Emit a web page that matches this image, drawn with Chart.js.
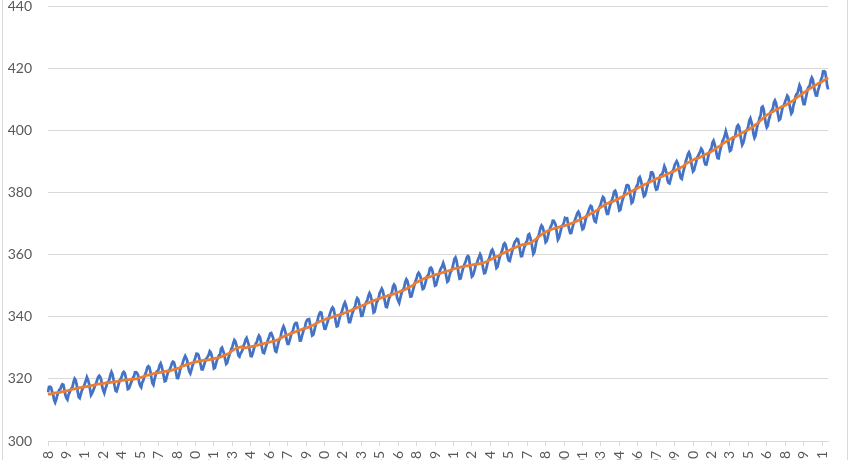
<!DOCTYPE html>
<html>
<head>
<meta charset="utf-8">
<script src="https://cdn.jsdelivr.net/npm/chart.js@4"></script>
<style>
  html, body { margin: 0; padding: 0; background: #fff; overflow: hidden; }
  #wrap { position: relative; width: 850px; height: 460px; overflow: hidden; }
  #c { position: absolute; left: 0; top: -18px; }
  .frame { position: absolute; top: 0; width: 1px; height: 460px; background: #d9d9d9; }
</style>
</head>
<body>
<div id="wrap">
  <canvas id="c" width="850" height="518"></canvas>
  <div class="frame" style="left:2px"></div>
  <div class="frame" style="left:847px"></div>
</div>
<script>
// Monthly CO2 (ppm), Mauna Loa, March 1958 – September 2021
const startYear = 1958;
const startMonth = 3;
const co2Measured = [
  315.70,317.45,317.51,317.24,315.86,314.93,313.20,312.43,313.33,314.67,
  315.58,316.49,316.65,317.72,318.29,318.15,316.54,314.80,313.84,313.33,314.81,315.58,
  316.43,316.98,317.58,319.03,320.04,319.59,318.18,315.91,314.16,313.83,315.00,316.19,
  316.89,317.70,318.54,319.48,320.58,319.77,318.57,316.79,314.80,315.38,316.10,317.01,
  317.94,318.55,319.68,320.57,321.02,320.62,319.61,317.40,316.25,315.42,316.69,317.70,
  318.74,319.07,319.86,321.38,322.25,321.48,319.74,317.77,316.21,315.99,317.07,318.35,
  319.57,320.01,320.74,321.84,322.26,321.89,320.44,318.69,316.70,316.87,317.68,318.71,
  319.44,320.44,320.89,322.14,322.17,321.87,321.21,318.87,317.81,317.30,318.87,319.42,
  320.62,321.60,322.39,323.70,324.08,323.75,322.38,320.36,318.64,318.10,319.78,321.03,
  322.33,322.50,323.04,324.42,325.00,324.09,322.54,320.92,319.25,319.39,320.73,321.96,
  322.57,323.15,323.89,325.02,325.57,325.36,324.14,322.11,320.33,320.25,321.32,322.89,
  324.00,324.42,325.63,326.66,327.38,326.71,325.88,323.66,322.38,321.78,322.85,324.12,
  325.06,325.98,326.93,328.13,328.08,327.67,326.34,324.69,323.10,323.06,324.01,325.13,
  326.17,326.68,327.17,327.79,328.93,328.57,327.36,325.43,323.36,323.56,324.80,326.01,
  326.77,327.63,327.75,329.72,330.07,329.09,328.04,326.32,324.84,325.20,326.50,327.55,
  328.55,329.56,330.30,331.50,332.48,332.07,330.87,329.31,327.51,327.18,328.16,328.64,
  329.35,330.71,331.48,332.65,333.19,332.20,331.07,329.15,327.33,327.28,328.31,329.58,
  330.73,331.46,331.90,333.17,333.94,333.45,331.97,329.95,328.50,328.34,329.37,330.58,
  331.59,332.75,333.52,334.64,334.77,334.00,333.06,330.68,328.95,328.75,330.15,331.62,
  332.66,333.13,334.95,336.13,336.93,336.17,334.88,332.56,331.29,331.27,332.41,333.60,
  334.95,335.25,336.66,337.69,338.03,338.01,336.41,334.41,332.37,332.41,333.75,334.90,
  336.14,336.69,338.27,338.96,339.21,339.26,337.54,335.75,333.98,334.19,335.31,336.81,
  337.90,338.34,340.01,340.93,341.48,341.33,339.40,337.70,336.19,336.15,337.27,338.32,
  339.29,340.55,341.61,342.53,343.03,342.54,340.78,338.44,336.95,337.08,338.58,339.88,
  340.96,341.73,342.81,343.97,344.63,343.79,342.32,340.09,338.28,338.29,339.60,340.90,
  341.68,342.90,343.33,345.25,346.03,345.63,344.19,342.27,340.35,340.38,341.59,343.05,
  344.10,344.79,345.52,346.84,347.63,346.97,345.53,343.55,341.40,341.67,343.10,344.70,
  345.21,346.16,347.74,348.34,349.06,348.38,346.72,345.02,343.27,343.13,344.49,345.88,
  346.56,347.28,348.01,349.77,350.38,349.93,348.16,346.08,345.22,344.51,345.93,347.21,
  348.52,348.73,349.73,351.31,352.09,351.53,350.11,348.08,346.52,346.59,347.96,349.16,
  350.39,351.64,352.41,353.69,354.21,353.72,352.69,350.40,348.92,349.13,350.20,351.41,
  352.91,353.27,353.96,355.64,355.86,355.37,353.99,351.81,350.05,350.25,351.49,352.85,
  353.80,355.04,355.73,356.32,357.32,356.34,354.84,353.01,351.31,351.62,353.07,354.33,
  354.84,355.73,357.23,358.66,359.13,358.13,356.19,353.85,352.25,352.35,353.81,355.12,
  356.25,357.11,357.86,359.09,359.59,359.33,357.01,354.94,352.96,353.32,354.32,355.57,
  357.00,357.31,358.47,359.27,360.19,359.52,357.33,355.64,354.03,354.12,355.41,356.91,
  358.24,358.92,359.99,361.23,361.65,360.81,359.38,357.46,355.73,356.08,357.53,358.98,
  359.92,360.86,361.83,363.30,363.69,363.19,361.64,359.12,358.17,357.99,359.45,360.68,
  362.07,363.24,364.17,364.57,365.13,364.92,363.55,361.38,359.54,359.58,360.89,362.24,
  363.09,364.03,364.51,366.35,366.64,365.59,364.31,362.25,360.29,360.82,362.49,364.38,
  365.26,365.98,367.24,368.66,369.42,368.99,367.82,365.95,364.02,364.40,365.52,367.13,
  368.18,369.07,369.68,370.99,370.96,370.30,369.45,366.90,364.81,365.37,366.72,368.10,
  369.29,369.54,370.60,371.82,371.58,371.70,369.86,368.13,367.00,367.03,368.37,369.67,
  370.59,371.51,372.43,373.37,373.85,373.22,371.50,369.61,368.18,368.45,369.76,371.24,
  372.53,373.20,374.12,375.02,375.76,375.52,374.01,371.85,370.75,370.55,372.25,373.79,
  374.88,375.64,376.45,377.73,378.60,378.28,376.70,374.38,373.17,373.15,374.66,375.99,
  377.00,377.87,378.88,380.35,380.62,379.69,377.47,376.01,374.25,374.46,376.16,377.51,
  378.46,379.73,380.77,382.29,382.45,382.21,380.74,378.74,376.70,377.00,378.35,380.11,
  381.38,382.19,382.67,384.61,385.03,384.05,382.46,380.41,378.85,379.13,380.15,381.82,
  382.89,383.90,384.58,386.50,386.56,386.10,384.50,381.99,380.96,381.12,382.45,383.95,
  385.52,385.82,386.03,387.21,388.54,387.76,386.36,384.09,383.18,382.99,384.19,385.56,
  386.94,387.48,388.82,389.55,390.14,389.48,388.03,386.11,384.74,384.43,386.02,387.42,
  388.71,390.20,391.17,392.46,393.00,392.15,390.20,388.35,386.85,387.24,388.67,389.79,
  391.33,391.86,392.60,393.25,394.19,393.74,392.51,390.13,389.08,389.00,390.28,391.86,
  393.12,393.86,394.40,396.18,396.74,395.71,394.36,392.39,391.11,391.05,392.98,394.34,
  395.55,396.80,397.43,398.41,399.78,398.61,397.32,395.20,393.45,393.70,395.16,396.84,
  397.85,398.01,399.77,401.38,401.78,401.25,399.10,397.03,395.38,396.03,397.28,398.91,
  399.98,400.28,401.54,403.28,403.96,402.80,401.31,398.93,397.63,398.29,400.16,401.85,
  402.56,404.12,404.87,407.45,407.72,406.83,404.41,402.27,401.05,401.59,403.55,404.45,
  406.17,406.46,407.22,409.04,409.69,408.88,407.12,405.13,403.37,403.63,405.12,406.81,
  407.96,408.32,409.41,410.24,411.24,410.79,408.71,406.99,405.51,406.00,408.02,409.07,
  410.83,411.75,411.97,413.33,414.64,413.92,411.77,409.95,408.54,408.53,410.27,411.76,
  413.40,414.11,414.51,416.21,417.07,416.39,414.38,412.55,411.29,411.28,412.89,413.89,
  415.15,416.47,417.16,419.05,419.13,418.94,416.96,414.47,413.30
];
const co2Trend = [
  315.0,315.1,315.1,315.2,315.3,315.3,315.4,315.5,315.5,315.6,
  315.6,315.7,315.7,315.8,315.9,315.9,316.0,316.1,316.1,316.2,316.3,316.4,
  316.5,316.6,316.7,316.7,316.8,316.9,316.9,317.0,317.1,317.2,317.2,317.3,
  317.3,317.4,317.4,317.5,317.5,317.6,317.7,317.7,317.8,317.9,317.9,318.0,
  318.1,318.2,318.3,318.3,318.4,318.4,318.5,318.5,318.6,318.6,318.7,318.8,
  318.7,318.8,318.8,318.9,318.9,319.0,319.0,319.1,319.1,319.2,319.2,319.3,
  319.4,319.4,319.5,319.5,319.6,319.6,319.6,319.7,319.7,319.8,319.8,319.9,
  319.8,319.9,319.9,320.0,320.0,320.1,320.2,320.3,320.4,320.5,320.6,320.7,
  320.9,321.0,321.1,321.2,321.2,321.3,321.4,321.5,321.6,321.7,321.8,321.9,
  321.8,321.9,322.0,322.0,322.1,322.2,322.2,322.3,322.4,322.4,322.5,322.6,
  322.5,322.6,322.7,322.8,322.9,323.0,323.1,323.2,323.3,323.4,323.5,323.6,
  324.0,324.1,324.2,324.3,324.4,324.6,324.7,324.8,324.9,325.0,325.1,325.2,
  325.3,325.4,325.4,325.5,325.6,325.6,325.7,325.8,325.9,325.9,326.0,326.1,
  325.9,326.0,326.1,326.1,326.2,326.3,326.4,326.4,326.5,326.6,326.7,326.7,
  326.7,326.8,327.0,327.1,327.3,327.4,327.5,327.7,327.8,328.0,328.1,328.2,
  328.6,328.9,329.1,329.3,329.5,329.7,329.8,330.0,330.1,330.2,330.3,330.3,
  330.0,330.0,330.0,330.1,330.1,330.2,330.2,330.3,330.4,330.4,330.5,330.5,
  330.7,330.8,330.8,330.9,331.0,331.1,331.2,331.2,331.3,331.4,331.5,331.5,
  331.6,331.7,331.8,331.9,332.0,332.0,332.1,332.2,332.3,332.4,332.6,332.7,
  333.0,333.2,333.3,333.5,333.6,333.8,333.9,334.1,334.2,334.3,334.5,334.6,
  334.7,334.8,335.0,335.1,335.2,335.3,335.5,335.6,335.7,335.8,336.0,336.1,
  336.1,336.2,336.4,336.5,336.6,336.8,336.9,337.1,337.2,337.3,337.5,337.6,
  338.0,338.1,338.3,338.4,338.6,338.7,338.8,339.0,339.1,339.2,339.4,339.5,
  339.5,339.6,339.7,339.8,340.0,340.1,340.2,340.3,340.4,340.5,340.6,340.7,
  340.8,340.9,341.0,341.2,341.3,341.4,341.5,341.7,341.8,341.9,342.0,342.2,
  342.4,342.5,342.7,342.8,343.0,343.1,343.2,343.4,343.5,343.6,343.8,343.9,
  344.1,344.3,344.4,344.5,344.7,344.8,344.9,345.1,345.2,345.3,345.5,345.6,
  345.7,345.8,345.9,346.1,346.2,346.3,346.4,346.5,346.6,346.7,346.9,347.0,
  346.9,347.1,347.2,347.3,347.4,347.5,347.7,347.8,347.9,348.0,348.2,348.3,
  348.4,348.5,348.7,348.9,349.0,349.2,349.4,349.6,349.7,349.9,350.1,350.2,
  350.8,351.0,351.1,351.3,351.4,351.6,351.8,351.9,352.1,352.3,352.4,352.6,
  352.6,352.7,352.8,352.9,353.0,353.1,353.3,353.4,353.5,353.6,353.7,353.8,
  353.9,354.0,354.1,354.2,354.3,354.4,354.5,354.6,354.7,354.8,354.9,355.0,
  355.2,355.3,355.4,355.5,355.6,355.7,355.7,355.8,355.9,356.0,356.1,356.2,
  356.2,356.3,356.3,356.4,356.4,356.5,356.6,356.6,356.7,356.8,356.8,356.9,
  356.9,357.0,357.0,357.1,357.1,357.2,357.3,357.4,357.5,357.6,357.7,357.8,
  358.1,358.3,358.4,358.6,358.7,358.9,359.0,359.2,359.4,359.5,359.7,359.8,
  360.1,360.3,360.4,360.6,360.7,360.9,361.0,361.2,361.4,361.5,361.7,361.8,
  362.1,362.2,362.3,362.4,362.6,362.7,362.8,362.9,363.0,363.2,363.3,363.4,
  363.3,363.4,363.5,363.6,363.7,363.8,364.0,364.2,364.4,364.6,364.9,365.1,
  365.6,365.8,366.0,366.2,366.5,366.7,366.9,367.1,367.3,367.5,367.7,367.8,
  368.0,368.1,368.2,368.3,368.4,368.5,368.6,368.7,368.8,368.9,369.0,369.1,
  369.1,369.2,369.3,369.4,369.5,369.6,369.8,369.9,370.0,370.1,370.2,370.3,
  370.5,370.6,370.8,370.9,371.1,371.2,371.4,371.6,371.7,371.9,372.0,372.2,
  372.4,372.6,372.8,373.0,373.2,373.4,373.6,373.7,373.9,374.1,374.3,374.5,
  374.9,375.1,375.3,375.5,375.7,375.9,376.1,376.3,376.5,376.6,376.8,377.0,
  376.9,377.0,377.2,377.4,377.5,377.7,377.9,378.0,378.2,378.4,378.5,378.7,
  379.0,379.2,379.3,379.5,379.7,379.9,380.1,380.3,380.4,380.6,380.8,381.0,
  381.2,381.3,381.5,381.7,381.8,382.0,382.2,382.3,382.5,382.7,382.8,383.0,
  383.2,383.3,383.5,383.6,383.8,383.9,384.1,384.3,384.4,384.6,384.7,384.9,
  385.0,385.1,385.3,385.4,385.6,385.7,385.9,386.0,386.2,386.3,386.5,386.6,
  386.7,386.9,387.0,387.2,387.4,387.6,387.7,387.9,388.1,388.3,388.4,388.6,
  389.1,389.3,389.5,389.7,389.8,390.0,390.2,390.4,390.5,390.7,390.9,391.0,
  391.0,391.1,391.3,391.4,391.6,391.8,391.9,392.1,392.3,392.4,392.6,392.8,
  392.9,393.1,393.3,393.5,393.7,393.9,394.2,394.4,394.6,394.8,395.0,395.2,
  395.6,395.8,396.0,396.2,396.4,396.6,396.8,397.0,397.2,397.4,397.6,397.8,
  397.8,398.0,398.2,398.4,398.5,398.7,398.9,399.1,399.3,399.4,399.6,399.8,
  400.0,400.1,400.3,400.5,400.7,400.9,401.1,401.4,401.6,401.9,402.1,402.3,
  402.7,403.0,403.3,403.6,403.9,404.2,404.5,404.7,405.0,405.2,405.4,405.6,
  405.8,406.0,406.1,406.3,406.5,406.7,406.9,407.0,407.2,407.4,407.6,407.7,
  407.8,408.0,408.1,408.3,408.5,408.7,408.9,409.1,409.3,409.5,409.7,409.9,
  410.3,410.5,410.8,411.0,411.2,411.5,411.7,411.9,412.2,412.4,412.6,412.9,
  413.1,413.3,413.5,413.7,413.9,414.1,414.3,414.5,414.7,414.9,415.1,415.3,
  415.4,415.6,415.8,416.0,416.2,416.4,416.6,416.8,417.0
];
const yTickValues = [300, 320, 340, 360, 380, 400, 420, 440];
const labelEvery = 18;

// category labels: one per month, "M/YYYY"
const categories = [];
for (let i = 0; i < co2Measured.length; i++) {
  const m0 = startMonth - 1 + i;
  categories.push(((m0 % 12) + 1) + '/' + (startYear + Math.floor(m0 / 12)));
}

const gridColor = '#d9d9d9';
const textColor = '#595959';

new Chart(document.getElementById('c'), {
  type: 'line',
  data: {
    labels: categories,
    datasets: [
      { label: 'Trend', data: co2Trend, borderColor: '#ED7D31', borderWidth: 2.75,
        pointRadius: 0, tension: 0, fill: false, order: 0 },
      { label: 'Monthly', data: co2Measured, borderColor: '#4472C4', borderWidth: 2.75,
        pointRadius: 0, tension: 0, fill: false, order: 1 }
    ]
  },
  options: {
    responsive: false,
    animation: false,
    devicePixelRatio: 1,
    layout: { padding: { top: 0, right: 14, left: 0, bottom: 0 } },
    plugins: { legend: { display: false }, tooltip: { enabled: false } },
    scales: {
      x: {
        type: 'category',
        offset: false,
        afterFit: (s) => { s.height = 59; },
        grid: {
          drawOnChartArea: false,
          drawTicks: true,
          tickLength: 5,
          color: (ctx) => (ctx.index % labelEvery === 0 ? gridColor : 'rgba(0,0,0,0)')
        },
        border: { display: true, color: gridColor },
        ticks: {
          autoSkip: false,
          maxRotation: 90,
          minRotation: 90,
          padding: 5,
          color: textColor,
          font: { family: 'Lato', size: 14 },
          callback: function (v, i) { return i % labelEvery === 0 ? this.getLabelForValue(v) : ''; }
        }
      },
      y: {
        min: 300,
        max: 440,
        afterFit: (s) => { s.width = 48; },
        afterBuildTicks: (s) => { s.ticks = yTickValues.map(v => ({ value: v })); },
        grid: { color: gridColor, drawTicks: false },
        border: { display: false },
        ticks: {
          padding: 16,
          color: textColor,
          font: { family: 'Lato', size: 14 }
        }
      }
    }
  }
});
</script>
</body>
</html>
